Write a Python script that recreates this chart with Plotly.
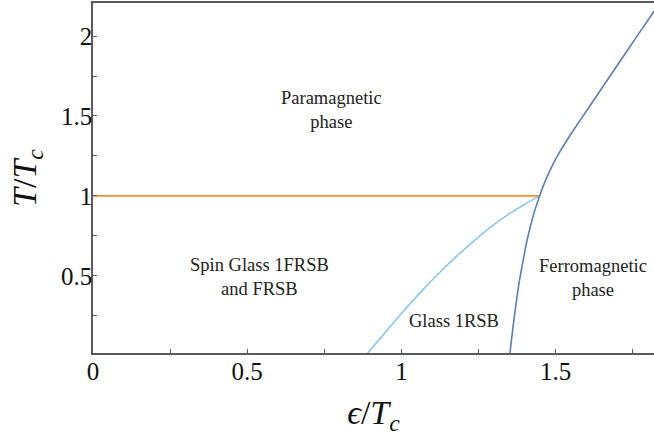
import plotly.graph_objects as go

# Phase boundary data (epsilon/Tc, T/Tc)
para_x = [0.0, 1.449]
para_y = [1.0, 1.0]

glass_x = [0.884, 0.95, 1.0, 1.06, 1.124, 1.18, 1.232, 1.29, 1.341, 1.40, 1.449]
glass_y = [0.0, 0.152, 0.264, 0.393, 0.521, 0.625, 0.713, 0.806, 0.877, 0.948, 1.0]

ferro_x = [1.351, 1.360, 1.370, 1.381, 1.395, 1.405, 1.417, 1.431, 1.448, 1.468, 1.492, 1.521,
           1.554, 1.624, 1.694, 1.764, 1.821]
ferro_y = [0.0, 0.15, 0.3, 0.45, 0.6, 0.7, 0.8, 0.9, 1.0, 1.1, 1.2, 1.3,
           1.4, 1.6, 1.8, 2.0, 2.16]

x_ticks = [0, 0.5, 1, 1.5]
x_tick_labels = ["0", "0.5", "1", "1.5"]
y_ticks = [0.5, 1, 1.5, 2]
y_tick_labels = ["0.5", "1", "1.5", "2"]

labels = ["Paramagnetic<br>phase", "Spin Glass 1FRSB<br>and FRSB", "Glass 1RSB", "Ferromagnetic<br>phase"]
label_x = [0.774, 0.540, 1.169, 1.621]
label_y = [1.537, 0.491, 0.217, 0.488]

SERIF = "Liberation Serif"
AXC = "#5a5a5a"

fig = go.Figure()
fig.add_trace(go.Scatter(x=para_x, y=para_y, mode="lines",
                         line=dict(color="#F7902A", width=1.6), showlegend=False))
fig.add_trace(go.Scatter(x=glass_x, y=glass_y, mode="lines", line_shape="spline",
                         line=dict(color="#8CC6F0", width=1.6, smoothing=0.6), showlegend=False))
fig.add_trace(go.Scatter(x=ferro_x, y=ferro_y, mode="lines", line_shape="spline",
                         line=dict(color="#5A7DB8", width=1.6, smoothing=0.6), showlegend=False))

for t, lx, ly in zip(labels, label_x, label_y):
    fig.add_annotation(x=lx, y=ly, text=t, showarrow=False, xref="x", yref="y",
                       font=dict(family=SERIF, size=18.5, color="#222"), align="center")

fig.update_layout(
    width=654, height=441,
    margin=dict(l=93, r=0, t=3, b=88),
    plot_bgcolor="white", paper_bgcolor="white",
    xaxis=dict(range=[0, 1.819], tickvals=x_ticks, ticktext=x_tick_labels, automargin=False,
               showgrid=False, zeroline=False, showline=True, linecolor=AXC, linewidth=1.5,
               mirror=True, ticks="inside", ticklen=4, tickcolor=AXC, tickwidth=1,
               minor=dict(dtick=0.25, tick0=0, ticks="inside", ticklen=4, tickcolor=AXC, tickwidth=1),
               tickfont=dict(family=SERIF, size=25, color="#111"), ticklabelstandoff=-5,
               title=dict(text="<i>ϵ</i>/<i>T</i><sub><i>c</i></sub>", standoff=16,
                          font=dict(family=SERIF, size=34, color="#111"))),
    yaxis=dict(range=[0.017, 2.207], tickvals=y_ticks, ticktext=y_tick_labels, automargin=False,
               showgrid=False, zeroline=False, showline=True, linecolor=AXC, linewidth=1.5,
               ticks="inside", ticklen=4, tickcolor=AXC, tickwidth=1,
               minor=dict(dtick=0.25, tick0=0, ticks="inside", ticklen=4, tickcolor=AXC, tickwidth=1),
               tickfont=dict(family=SERIF, size=25, color="#111"), ticklabelstandoff=-6,
               title=dict(text="<i>T</i>/<i>T</i><sub><i>c</i></sub>", standoff=14,
                          font=dict(family=SERIF, size=34, color="#111"))),
)

fig.write_html("out.html", config={"displayModeBar": False},
               post_script="document.body.style.margin='0';document.body.style.overflow='hidden';")
